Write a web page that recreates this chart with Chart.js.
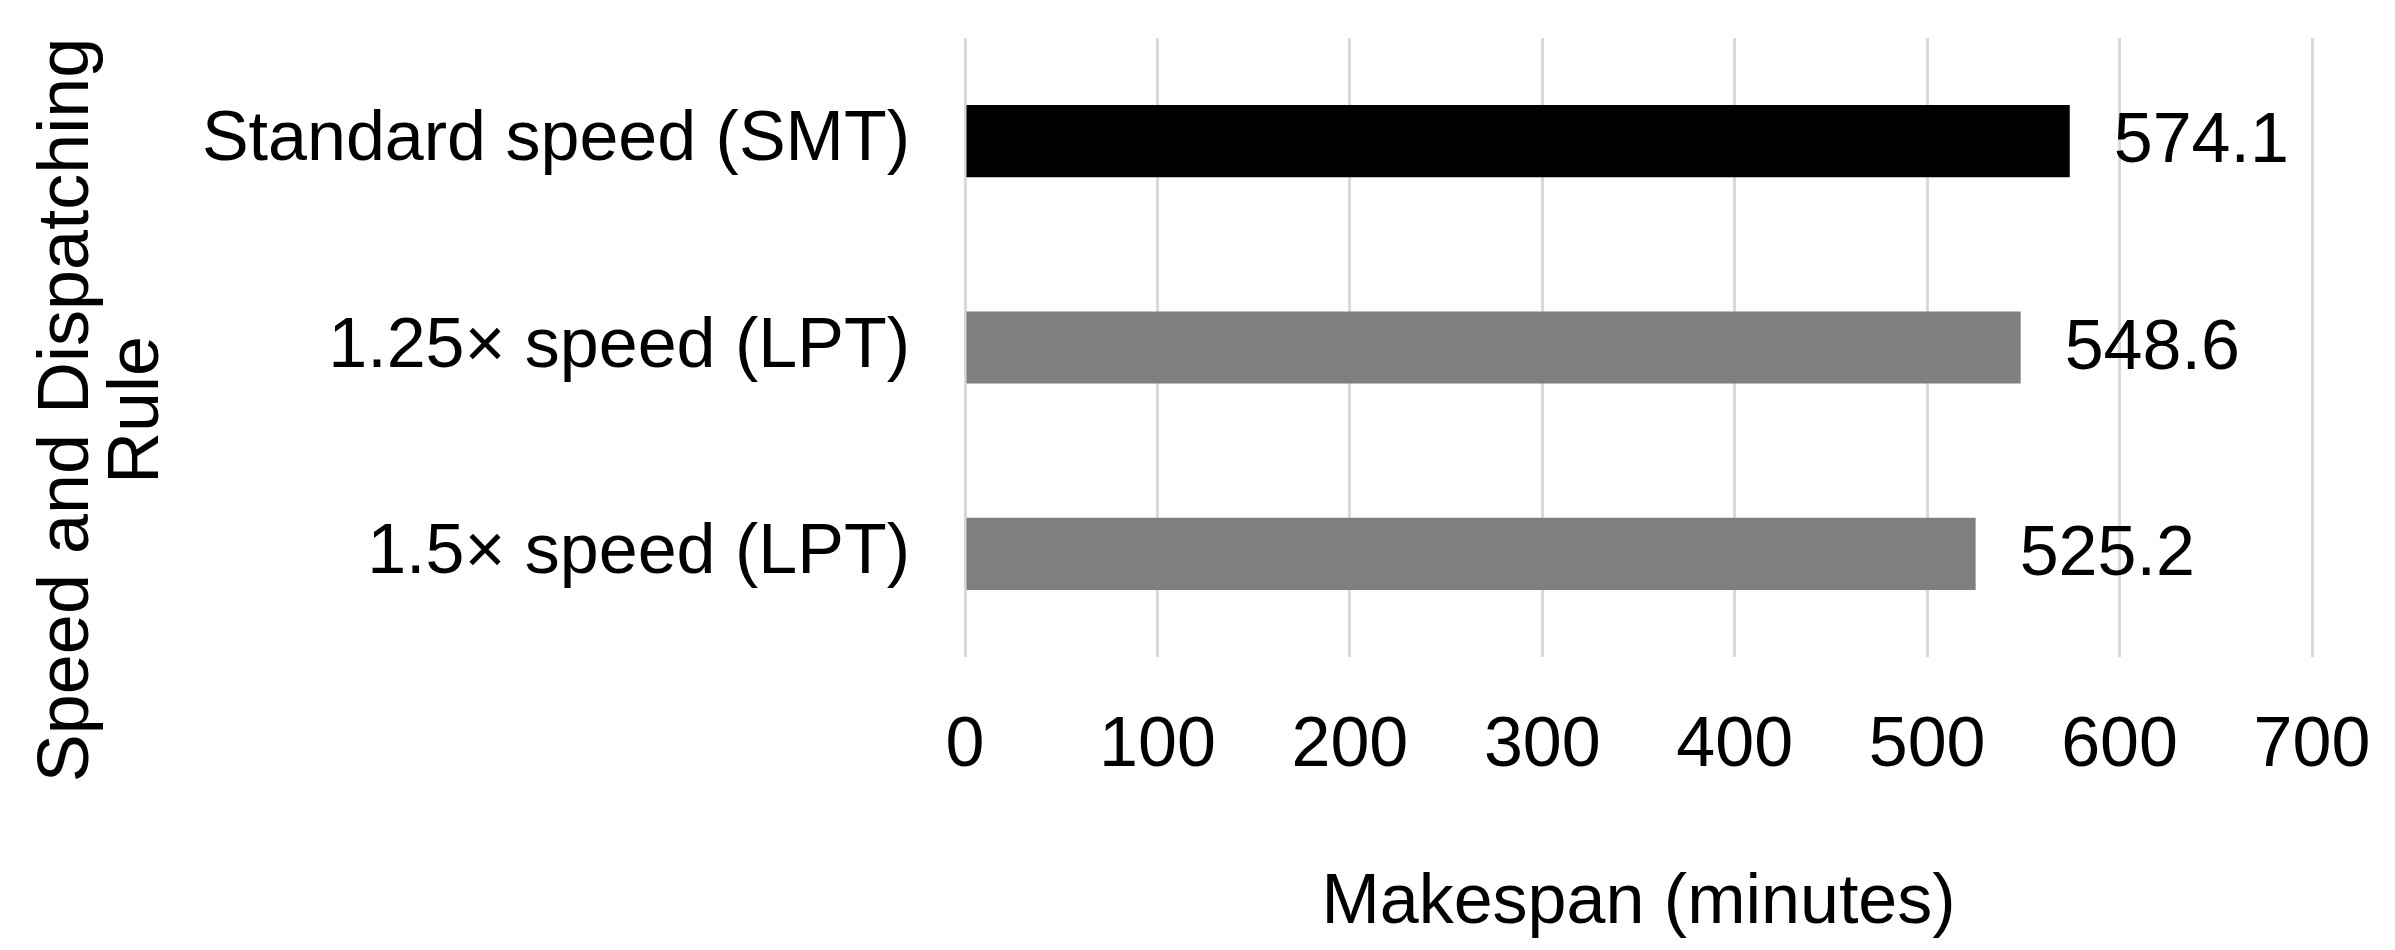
<!DOCTYPE html>
<html>
<head>
<meta charset="utf-8">
<script src="https://cdn.jsdelivr.net/npm/chart.js@4/dist/chart.umd.min.js"></script>
<style>
  html, body { margin: 0; padding: 0; background: #fff; }
  canvas { display: block; }
</style>
</head>
<body>
<canvas id="makespan" width="2395" height="950"></canvas>
<script>
const categories = ["Standard speed (SMT)", "1.25\u00d7 speed (LPT)", "1.5\u00d7 speed (LPT)"];
const makespan = [574.1, 548.6, 525.2];
const barColors = ["#000000", "#7f7f7f", "#7f7f7f"];
const xTitle = "Makespan (minutes)";
const yTitle = ["Speed and Dispatching", "Rule"];

const fontFamily = '"Liberation Sans", Arial, sans-serif';
const fontSize = 70;

// value labels to the right of each bar
const valueLabels = {
  id: "valueLabels",
  afterDatasetsDraw(chart) {
    const ctx = chart.ctx;
    const meta = chart.getDatasetMeta(0);
    ctx.save();
    ctx.font = `${fontSize}px ${fontFamily}`;
    ctx.fillStyle = "#000";
    ctx.textAlign = "left";
    ctx.textBaseline = "middle";
    meta.data.forEach((bar, i) => {
      ctx.fillText(makespan[i].toFixed(1), bar.x + 44, bar.y + 2);
    });
    ctx.restore();
  }
};

// vertical two-line y axis title, sits a bit below the plot centre like the original
const yAxisTitle = {
  id: "yAxisTitle",
  afterDraw(chart) {
    const ctx = chart.ctx;
    ctx.save();
    ctx.font = `${fontSize + 2}px ${fontFamily}`;
    ctx.fillStyle = "#000";
    ctx.textAlign = "center";
    ctx.textBaseline = "middle";
    ctx.translate(0, 410);
    ctx.rotate(-Math.PI / 2);
    yTitle.forEach((line, i) => ctx.fillText(line, 0, 68 + i * 70));
    ctx.restore();
  }
};

new Chart(document.getElementById("makespan"), {
  type: "bar",
  data: {
    labels: categories,
    datasets: [{
      data: makespan,
      backgroundColor: barColors,
      borderWidth: 0,
      categoryPercentage: 1,
      barPercentage: 0.35
    }]
  },
  options: {
    indexAxis: "y",
    responsive: false,
    animation: false,
    layout: { padding: { top: 38, right: 83, bottom: 0, left: 0 } },
    plugins: { legend: { display: false }, tooltip: { enabled: false } },
    scales: {
      x: {
        min: 0,
        max: 700,
        ticks: { stepSize: 100, padding: 48, color: "#000", font: { family: fontFamily, size: fontSize } },
        grid: { color: "#d9d9d9", lineWidth: 3, drawTicks: false },
        border: { display: false },
        title: { display: true, text: xTitle, color: "#000", font: { family: fontFamily, size: fontSize }, padding: { top: 0, bottom: 4 } },
        afterFit(scale) {
          scale.height = 950 - 657;
          scale.paddingLeft = 0;
          scale.paddingRight = 0;
        }
      },
      y: {
        ticks: { padding: 55, color: "#000", font: { family: fontFamily, size: fontSize } },
        grid: { display: false, drawTicks: false },
        border: { display: false },
        afterFit(scale) {
          scale.width = 965;
          scale.paddingTop = 0;
          scale.paddingBottom = 0;
        }
      }
    }
  },
  plugins: [valueLabels, yAxisTitle]
});
</script>
</body>
</html>
